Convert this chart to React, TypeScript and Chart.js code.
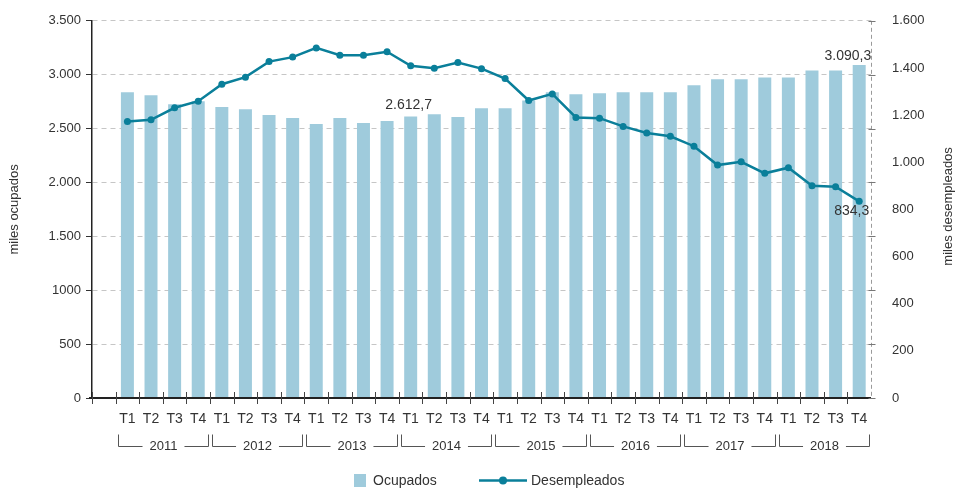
import React, { useEffect, useRef } from "react";
import { Chart, registerables } from "chart.js";

Chart.register(...registerables);

const years = ["2011", "2012", "2013", "2014", "2015", "2016", "2017", "2018"];
const quarters = ["T1", "T2", "T3", "T4"];

// miles ocupados (barras)
const ocupados = [
  2837, 2809, 2726, 2754,
  2699, 2680, 2625, 2597,
  2542, 2597, 2551, 2570,
  2612.7, 2634, 2607, 2689,
  2689, 2760, 2837, 2818,
  2828, 2837, 2837, 2837,
  2901, 2957, 2957, 2975,
  2975, 3039, 3039, 3090.3,
];

// miles desempleados (línea)
const desempleados = [
  1173, 1180, 1231, 1259,
  1331, 1361, 1427, 1446,
  1485, 1454, 1454, 1469,
  1409, 1399, 1423, 1397,
  1355, 1262, 1290, 1190,
  1187, 1152, 1124, 1110,
  1068, 988, 1002, 953,
  977, 900, 896, 834.3,
];

const leftTickLabels = ["0", "500", "1000", "1.500", "2.000", "2.500", "3.000", "3.500"];
const rightTickLabels = ["0", "200", "400", "600", "800", "1.000", "1.200", "1.400", "1.600"];

const leftTitle = "miles ocupados";
const rightTitle = "miles desempleados";
const seriesNames = ["Ocupados", "Desempleados"];

// one empty slot before the first quarter
const categories = ["", ...years.flatMap(() => quarters)];

const FONT = '"Liberation Sans", Arial, Helvetica, sans-serif';
const TEXT = "#333333";
const BAR = "#9fcbdc";
const LINE = "#0a7f9a";

const decorPlugin = {
  id: "decor",
  afterDraw(chart: any) {
    const { ctx, chartArea: ca, scales } = chart;
    const x = scales.x;
    const y = scales.y;
    const y1 = scales.y1;
    const slot = x.getPixelForValue(2) - x.getPixelForValue(1);
    const base = Math.round(y.getPixelForValue(0));
    ctx.save();

    // x axis line
    ctx.strokeStyle = "#222";
    ctx.lineWidth = 2;
    ctx.beginPath();
    ctx.moveTo(ca.left - 3, base);
    ctx.lineTo(ca.right, base);
    ctx.stroke();

    // x tick marks at slot boundaries
    ctx.strokeStyle = "#444";
    ctx.lineWidth = 1;
    for (let i = 0; i < categories.length; i++) {
      const bx = Math.round(x.getPixelForValue(i) - slot / 2) + 0.5;
      ctx.beginPath();
      ctx.moveTo(bx, base - 6);
      ctx.lineTo(bx, base + 6);
      ctx.stroke();
    }

    // right axis dashed line
    ctx.strokeStyle = "#9a9a9a";
    ctx.setLineDash([4, 3]);
    const rx = Math.round(ca.right) + 0.5;
    ctx.beginPath();
    ctx.moveTo(rx, ca.top);
    ctx.lineTo(rx, base);
    ctx.stroke();
    ctx.setLineDash([]);
    ctx.strokeStyle = "#777";
    y.ticks.forEach((t: any) => {
      const py = Math.round(y.getPixelForValue(t.value)) + 0.5;
      ctx.beginPath();
      ctx.moveTo(rx - 3, py);
      ctx.lineTo(rx + 4, py);
      ctx.stroke();
    });

    // year brackets
    ctx.font = `13px ${FONT}`;
    ctx.fillStyle = TEXT;
    ctx.textAlign = "center";
    ctx.textBaseline = "middle";
    ctx.strokeStyle = "#555";
    ctx.lineWidth = 1;
    const yTop = base + 36.5;
    const yB = base + 48.5;
    years.forEach((yr, g) => {
      const s = 1 + g * 4;
      const xL = Math.round(x.getPixelForValue(s) - slot / 2) + 2.5;
      const xR = Math.round(x.getPixelForValue(s + 3) + slot / 2) - 1.5;
      const cx = (xL + xR) / 2;
      const w = ctx.measureText(yr).width;
      ctx.beginPath();
      ctx.moveTo(xL, yTop);
      ctx.lineTo(xL, yB);
      ctx.lineTo(cx - w / 2 - 7, yB);
      ctx.moveTo(cx + w / 2 + 7, yB);
      ctx.lineTo(xR, yB);
      ctx.lineTo(xR, yTop);
      ctx.stroke();
      ctx.fillText(yr, cx, yB);
    });

    // axis titles
    ctx.font = `13px ${FONT}`;
    ctx.textAlign = "center";
    ctx.textBaseline = "middle";
    const midY = (ca.top + base) / 2;
    ctx.save();
    ctx.translate(14, midY);
    ctx.rotate(-Math.PI / 2);
    ctx.fillText(leftTitle, 0, 0);
    ctx.restore();
    ctx.save();
    ctx.translate(948, midY - 3);
    ctx.rotate(-Math.PI / 2);
    ctx.fillText(rightTitle, 0, 0);
    ctx.restore();

    // value annotations
    ctx.font = `14px ${FONT}`;
    ctx.textBaseline = "alphabetic";
    {
      const i = 12;
      const px = x.getPixelForValue(i + 1);
      const py = y.getPixelForValue(ocupados[i]);
      ctx.textAlign = "center";
      ctx.fillText("2.612,7", px - 2, py - 7);
    }
    {
      const i = ocupados.length - 1;
      const px = x.getPixelForValue(i + 1);
      const py = y.getPixelForValue(ocupados[i]);
      ctx.textAlign = "right";
      ctx.fillText("3.090,3", px + 12, py - 4.5);
    }
    {
      const i = desempleados.length - 1;
      const px = x.getPixelForValue(i + 1);
      const py = y1.getPixelForValue(desempleados[i]);
      ctx.textAlign = "right";
      ctx.fillText("834,3", px + 10, py + 14);
    }

    // legend
    const ly = 480.5;
    ctx.font = `14px ${FONT}`;
    ctx.textAlign = "left";
    ctx.textBaseline = "middle";
    ctx.fillStyle = BAR;
    ctx.fillRect(354, ly - 6.5, 12, 13);
    ctx.fillStyle = TEXT;
    ctx.fillText(seriesNames[0], 373, ly + 0.5);
    ctx.strokeStyle = LINE;
    ctx.lineWidth = 2.5;
    ctx.beginPath();
    ctx.moveTo(479, ly);
    ctx.lineTo(527, ly);
    ctx.stroke();
    ctx.fillStyle = LINE;
    ctx.beginPath();
    ctx.arc(503, ly, 4, 0, Math.PI * 2);
    ctx.fill();
    ctx.fillStyle = TEXT;
    ctx.fillText(seriesNames[1], 531, ly + 0.5);

    ctx.restore();
  },
};

export default function App() {
  const ref = useRef<HTMLCanvasElement | null>(null);

  useEffect(() => {
    if (!ref.current) return;
    const chart = new Chart(ref.current, {
      type: "bar",
      data: {
        labels: categories,
        datasets: [
          {
            type: "line",
            label: seriesNames[1],
            data: [null, ...desempleados],
            yAxisID: "y1",
            borderColor: LINE,
            backgroundColor: LINE,
            borderWidth: 2.5,
            pointRadius: 3.5,
            pointBackgroundColor: LINE,
            pointBorderWidth: 0,
            tension: 0,
            order: 0,
          } as any,
          {
            type: "bar",
            label: seriesNames[0],
            data: [null, ...ocupados],
            yAxisID: "y",
            backgroundColor: BAR,
            barPercentage: 0.55,
            categoryPercentage: 1,
            order: 1,
          } as any,
        ],
      },
      options: {
        responsive: false,
        animation: false,
        layout: { padding: { top: 18, left: 0, right: 0, bottom: 0 } },
        plugins: {
          legend: { display: false },
          tooltip: { enabled: false },
        },
        scales: {
          x: {
            offset: true,
            grid: { display: false },
            border: { display: false },
            ticks: {
              autoSkip: false,
              maxRotation: 0,
              minRotation: 0,
              color: TEXT,
              font: { family: FONT, size: 14 },
              padding: 5,
            },
            afterFit: (s: any) => {
              s.height = 91;
            },
          },
          y: {
            position: "left",
            min: 0,
            max: 3500,
            ticks: {
              stepSize: 500,
              color: TEXT,
              font: { family: FONT, size: 13 },
              padding: 5,
              callback: (_v: any, i: number) => leftTickLabels[i],
            },
            grid: { color: "#c6c6c6", lineWidth: 1, tickLength: 6, tickColor: "#333" },
            border: { display: true, color: "#222", width: 1.5, dash: [5, 4] },
            afterFit: (s: any) => {
              s.width = 92;
            },
          },
          y1: {
            position: "right",
            min: 0,
            max: 1600,
            ticks: {
              stepSize: 200,
              color: TEXT,
              font: { family: FONT, size: 13 },
              padding: 13,
              callback: (_v: any, i: number) => rightTickLabels[i],
            },
            grid: { display: false, drawOnChartArea: false },
            border: { display: false },
            afterFit: (s: any) => {
              s.width = 86;
            },
          },
        },
      } as any,
      plugins: [decorPlugin],
    });
    return () => chart.destroy();
  }, []);

  return (
    <div style={{ position: "absolute", left: 0, top: 0, width: 957, height: 489 }}>
      <canvas ref={ref} width={957} height={489} />
    </div>
  );
}
